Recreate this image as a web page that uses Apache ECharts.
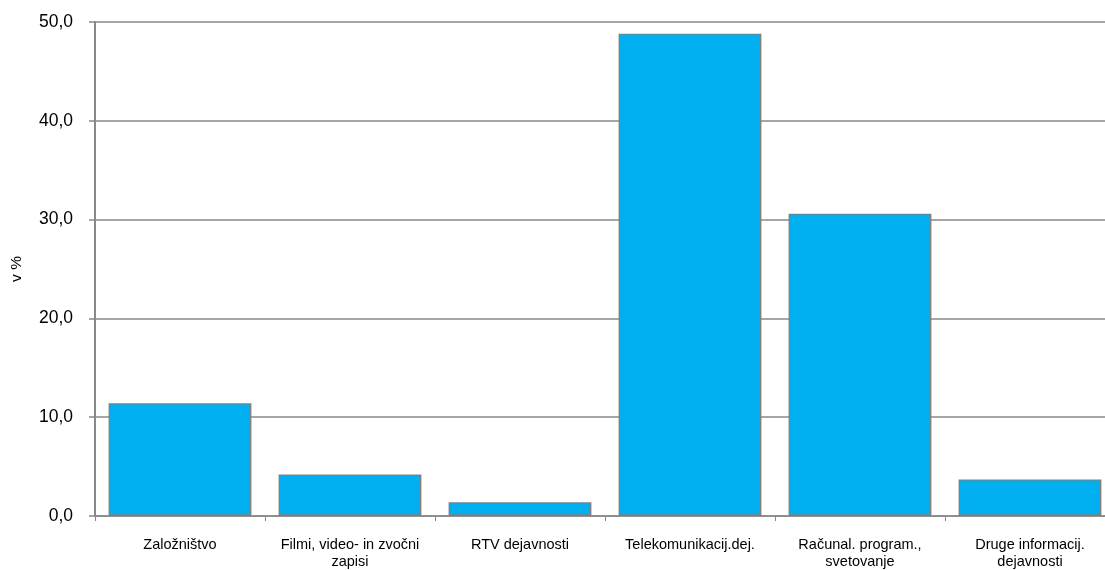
<!DOCTYPE html>
<html>
<head>
<meta charset="utf-8">
<script src="https://cdn.jsdelivr.net/npm/echarts@6/dist/echarts.min.js"></script>
<style>
  html, body { margin: 0; padding: 0; background: #fff; }
  #main { width: 1105px; height: 570px; }
</style>
</head>
<body>
<div id="main"></div>
<script>
// kategorije in vrednosti (v %)
var categories = ['Založništvo', 'Filmi, video- in zvočni\nzapisi', 'RTV dejavnosti',
  'Telekomunikacij.dej.', 'Računal. program.,\nsvetovanje', 'Druge informacij.\ndejavnosti'];
var values = [11.4, 4.2, 1.4, 48.8, 30.6, 3.7];
var yTicks = [0, 10, 20, 30, 40, 50];

var myChart = echarts.init(document.getElementById('main'));
var font = 'Liberation Sans, Arial, sans-serif';

var option = {
  animation: false,
  // desni rob grafa je odrezan na sliki
  grid: { left: 95, width: 1020, top: 22, bottom: 54, outerBoundsMode: 'none', containLabel: false },
  xAxis: {
    type: 'category',
    data: categories,
    axisLine: { lineStyle: { color: '#888', width: 1.5 } },
    axisTick: { show: true, length: 5, lineStyle: { color: '#888' } },
    axisLabel: { color: '#000', fontFamily: font, fontSize: 14.5, margin: 20, lineHeight: 17, interval: 0 }
  },
  yAxis: {
    type: 'value',
    min: yTicks[0],
    max: yTicks[yTicks.length - 1],
    interval: 10,
    name: 'v %',
    nameLocation: 'middle',
    nameGap: 70,
    nameRotate: 90,
    nameTextStyle: { color: '#000', fontFamily: font, fontSize: 15.5 },
    axisLine: { show: true, lineStyle: { color: '#888', width: 2 } },
    axisTick: { show: true, length: 6, lineStyle: { color: '#888', width: 1.5 } },
    splitLine: { lineStyle: { color: '#888', width: 1.5 } },
    axisLabel: {
      color: '#000', fontFamily: font, fontSize: 17.5, margin: 22,
      formatter: function (v) { return v.toFixed(1).replace('.', ','); }
    }
  },
  series: [{
    type: 'bar',
    data: values,
    barCategoryGap: '16%',
    itemStyle: { color: '#00B0F0', borderColor: '#808080', borderWidth: 1.5 }
  }]
};

myChart.setOption(option);
</script>
</body>
</html>
